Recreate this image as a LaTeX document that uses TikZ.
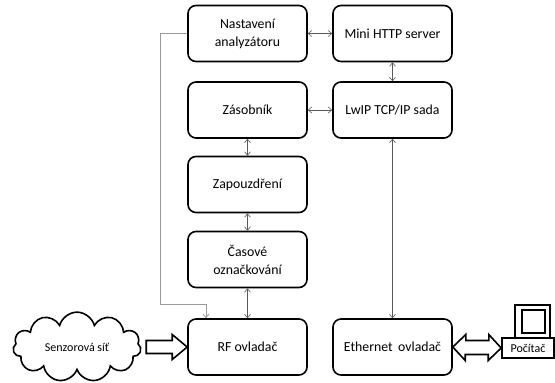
\documentclass[tikz,border=0pt]{standalone}
\usepackage{fontspec}
\setmainfont{Carlito}
\usetikzlibrary{shapes.symbols,arrows.meta}
\tikzset{
  blok/.style={draw, line width=1.6pt, rounded corners=8pt, minimum width=119pt,
    minimum height=56pt, align=center, font=\fontsize{13.8}{18}\selectfont},
  spoj/.style={<->, draw=black!65, line width=0.6pt},
  vedeni/.style={->, draw=black!40, line width=0.8pt},
  tlusta/.style={draw, line width=1.6pt, fill=white}
}
\begin{document}
\begin{tikzpicture}[x=1pt, y=-1pt, >={Straight Barb[length=3.5pt,width=6pt]}]
	\useasboundingbox (0,0) rectangle (555,383);
	\node[blok] (nast) at (247.5,33.5) {Nastavení\\analyzátoru};
	\node[blok] (http) at (392.5,33.5) {Mini HTTP server};
	\node[blok] (zas) at (247.5,110) {Zásobník};
	\node[blok] (lwip) at (392.5,110) {LwIP TCP/IP sada};
	\node[blok] (zap) at (247.5,184.5) {Zapouzdření};
	\node[blok] (cas) at (247.5,259.5) {Časové\\označkování};
	\node[blok] (rf) at (247.5,347) {RF ovladač};
	\node[blok] (eth) at (392.5,347) {Ethernet\, ovladač};

	\node[cloud, draw, line width=1.6pt, cloud puffs=11, aspect=2, minimum width=128pt,
	  minimum height=66pt, font=\fontsize{12}{14}\selectfont] (sit) at (77,347) {Senzorová síť};

	% pocitac
	\node[draw, line width=1.6pt, minimum width=52pt, minimum height=20pt, inner sep=1pt,
	  font=\fontsize{12}{14}\selectfont] (pc) at (528,348) {Počítač};
	\draw[line width=1.6pt] (515,338) rectangle (550,305);
	\draw[line width=1.6pt] (522,333) rectangle (545,310);

	\draw[spoj] (nast) -- (http);
	\draw[spoj] (zas) -- (lwip);
	\draw[spoj] (http) -- (lwip);
	\draw[spoj] (lwip) -- (eth);
	\draw[spoj] (zas) -- (zap);
	\draw[spoj] (zap) -- (cas);
	\draw[spoj] (cas) -- (rf);

	\coordinate (ohyb) at (160,304);
	\draw[vedeni] (nast.west) -| (ohyb) -| ([xshift=-41.5pt]rf.north);

	% tluste sipky
	\draw[tlusta] (rf.west) -- ++(-15,-12.5) -- ++(0,6) -- ++(-26,0) -- ++(0,13)
	  -- ++(26,0) -- ++(0,6) -- cycle;
	\draw[tlusta] (eth.east) -- ++(13,-12.5) -- ++(0,6) -- ++(23,0) -- ++(0,-6)
	  -- (pc.west) -- ++(-13,12.5) -- ++(0,-6) -- ++(-23,0) -- ++(0,6) -- cycle;
\end{tikzpicture}
\end{document}
